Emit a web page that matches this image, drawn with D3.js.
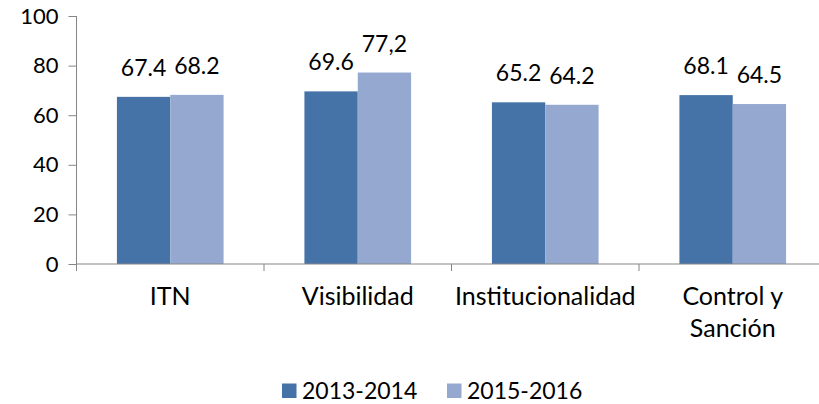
<!DOCTYPE html>
<html>
<head>
<meta charset="utf-8">
<script src="https://cdn.jsdelivr.net/npm/d3@7"></script>
<style>
  body { margin: 0; background: #fff; }
  svg text { font-family: Lato, "Open Sans", sans-serif; fill: #000; }
</style>
</head>
<body>
<script>
// data
var categories = ["ITN", "Visibilidad", "Institucionalidad", "Control y\nSanción"];
var series = ["2013-2014", "2015-2016"];
var values2013 = [67.4, 69.6, 65.2, 68.1];
var values2015 = [68.2, 77.2, 64.2, 64.5];
var labels2013 = ["67.4", "69.6", "65.2", "68.1"];
var labels2015 = ["68.2", "77,2", "64.2", "64.5"];
var yTicks = [0, 20, 40, 60, 80, 100];
var colors = ["#4673a7", "#95a9d0"];

var width = 819, height = 404;
var margin = { left: 76.5, top: 16, right: -7.5, bottom: 140 };

var svg = d3.select("body").append("svg").attr("width", width).attr("height", height);

var x0 = d3.scaleBand().domain(categories).range([margin.left, width - margin.right]).paddingInner(0).paddingOuter(0);
var x1 = d3.scaleBand().domain(series).range([0, x0.bandwidth()]).paddingInner(0).paddingOuter(0.758);
var y = d3.scaleLinear().domain([0, 100]).range([height - margin.bottom, margin.top]);

var rows = categories.map(function (c, i) {
    return { cat: c, vals: [
        { s: series[0], v: values2013[i], t: labels2013[i] },
        { s: series[1], v: values2015[i], t: labels2015[i] }
    ] };
});

// bars
var groups = svg.selectAll("g.cat").data(rows).enter().append("g")
    .attr("class", "cat")
    .attr("transform", function (d) { return "translate(" + x0(d.cat) + ",0)"; });

groups.selectAll("rect").data(function (d) { return d.vals; }).enter().append("rect")
    .attr("x", function (d) { return x1(d.s); })
    .attr("width", x1.bandwidth())
    .attr("y", function (d) { return y(d.v); })
    .attr("height", function (d) { return y(0) - y(d.v); })
    .style("fill", function (d, i) { return colors[i]; });

groups.selectAll("text.val").data(function (d) { return d.vals; }).enter().append("text")
    .attr("class", "val")
    .attr("x", function (d) { return x1(d.s) + x1.bandwidth() / 2; })
    .attr("y", function (d) { return y(d.v) - 21; })
    .attr("text-anchor", "middle")
    .attr("font-size", 23)
    .text(function (d) { return d.t; });

// y axis
var yAxis = d3.axisLeft(y).tickValues(yTicks).tickSize(8).tickPadding(10);
var gy = svg.append("g").attr("transform", "translate(" + margin.left + ",0)").call(yAxis);
gy.select(".domain").attr("d", "M0," + (y(0) + 7) + "V" + y(100)).attr("stroke", "#868686");
gy.selectAll(".tick line").attr("stroke", "#868686");
gy.selectAll(".tick text").attr("font-size", 22).attr("font-family", "Lato, 'Open Sans', sans-serif");

// x axis
var gx = svg.append("g").attr("transform", "translate(0," + y(0) + ")");
gx.append("line").attr("x1", margin.left).attr("x2", width - margin.right)
    .attr("stroke", "#868686");
gx.selectAll("line.tk").data(categories.slice(1)).enter().append("line")
    .attr("class", "tk")
    .attr("x1", function (d) { return x0(d); }).attr("x2", function (d) { return x0(d); })
    .attr("y1", 0).attr("y2", 7)
    .attr("stroke", "#868686");

var catText = gx.selectAll("text.cat").data(categories).enter().append("text")
    .attr("class", "cat")
    .attr("text-anchor", "middle")
    .attr("font-size", 25)
    .attr("y", 41);
catText.selectAll("tspan").data(function (d) { return d.split("\n"); }).enter().append("tspan")
    .attr("x", function () { var c = d3.select(this.parentNode).datum(); return x0(c) + x0.bandwidth() / 2; })
    .attr("dy", function (d, i) { return i === 0 ? 0 : 32; })
    .text(function (d) { return d; });

// legend
var legend = svg.append("g");
var legX = [282, 447];
series.forEach(function (s, i) {
    legend.append("rect").attr("x", legX[i]).attr("y", 383.5).attr("width", 14.5).attr("height", 14.5).style("fill", colors[i]);
    legend.append("text").attr("x", legX[i] + 20).attr("y", 399).attr("font-size", 23).text(s);
});
</script>
</body>
</html>
